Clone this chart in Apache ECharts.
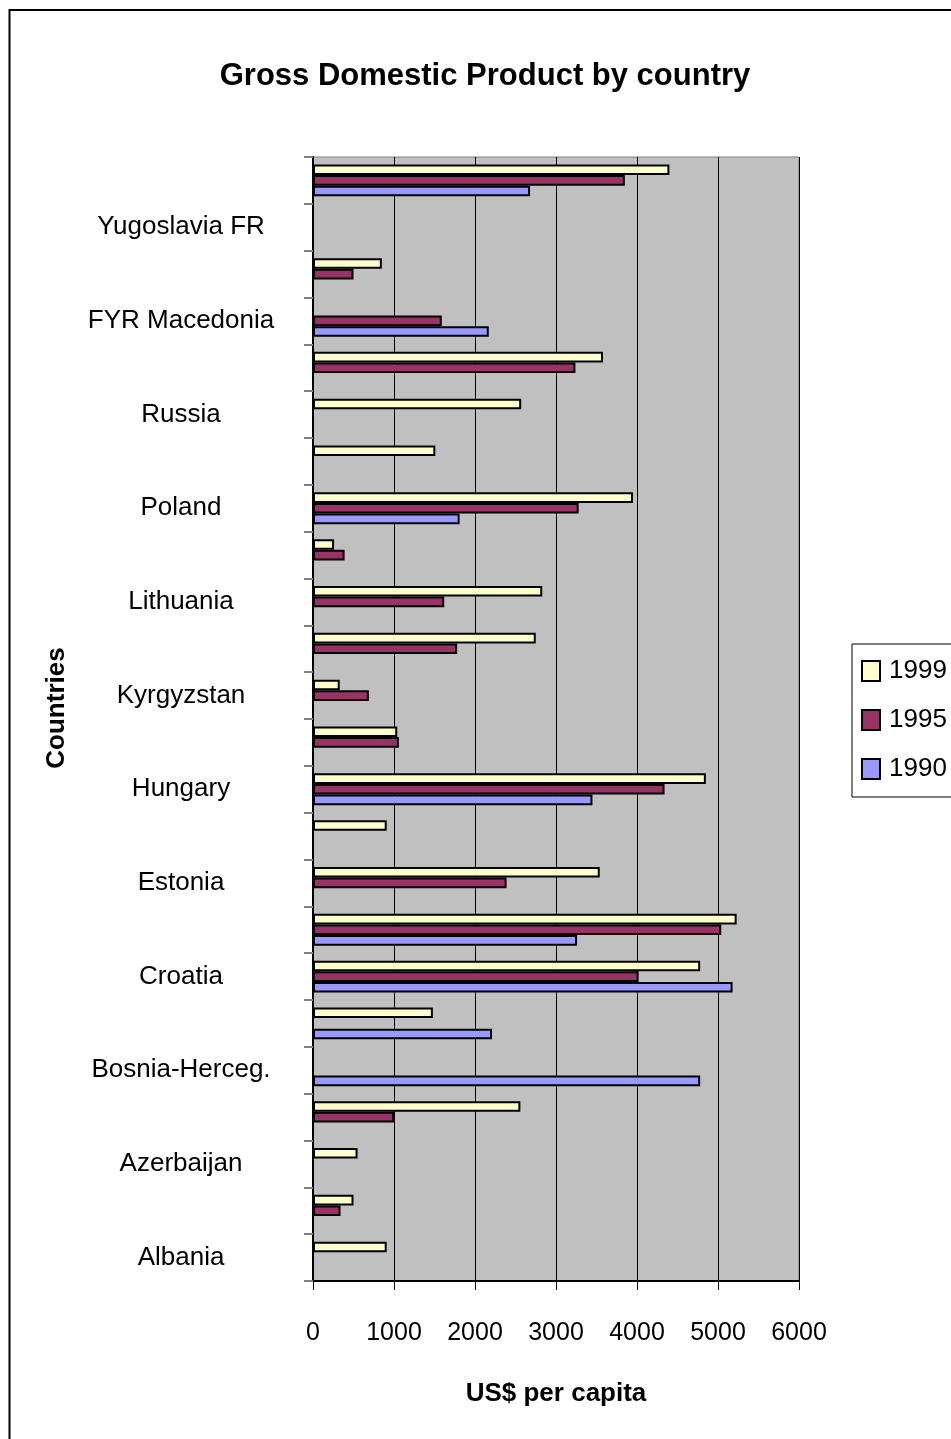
<!DOCTYPE html>
<html>
<head>
<meta charset="utf-8">
<script src="https://cdn.jsdelivr.net/npm/echarts@6/dist/echarts.min.js"></script>
<style>
html,body{margin:0;padding:0;background:#fff;}
#chart{width:951px;height:1439px;}
</style>
</head>
<body>
<div id="chart"></div>
<script>
// Categories (bottom to top); only every other label is shown, as in the reference
const countries = [
  'Albania','Armenia','Azerbaijan','Belarus','Bosnia-Herceg.','Bulgaria',
  'Croatia','Czech Rep.','Estonia','Georgia','Hungary','Kazakhstan',
  'Kyrgyzstan','Latvia','Lithuania','Moldova','Poland','Romania',
  'Russia','Slovakia','FYR Macedonia','Ukraine','Yugoslavia FR','Slovenia'
];
const gdp1999 = [910, 500, 550, 2560, null, 1480, 4780, 5230, 3540, 910, 4850, 1040,
                 330, 2750, 2830, 260, 3950, 1510, 2570, 3580, null, 850, null, 4400];
const gdp1995 = [null, 340, null, 1000, null, null, 4020, 5040, 2390, null, 4340, 1060,
                 690, 1780, 1620, 390, 3280, null, null, 3240, 1590, 500, null, 3850];
const gdp1990 = [null, null, null, null, 4780, 2210, 5180, 3260, null, null, 3450, null,
                 null, null, null, null, 1810, null, null, null, 2170, null, null, 2680];
const seriesNames = ['1999', '1995', '1990'];
const xMin = 0, xMax = 6000, xStep = 1000;

const FONT = "'Liberation Sans', Arial, Helvetica, sans-serif";

const chart = echarts.init(document.getElementById('chart'), null, {renderer: 'canvas'});
const option = {
  backgroundColor: '#ffffff',
  animation: false,
  title: {
    text: 'Gross Domestic Product by country',
    left: 480,
    textAlign: 'center',
    top: 56,
    textStyle: {fontFamily: FONT, fontSize: 31, fontWeight: 'bold', color: '#000'}
  },
  legend: {
    orient: 'vertical',
    left: 852,
    top: 644,
    padding: [14, 20, 15, 9],
    itemWidth: 18,
    itemHeight: 20,
    itemGap: 23,
    icon: 'rect',
    borderColor: '#000',
    borderWidth: 1,
    backgroundColor: '#fff',
    data: seriesNames,
    textStyle: {fontFamily: FONT, fontSize: 26, color: '#000', lineHeight: 26, padding: [0, 0, 0, 4]}
  },
  graphic: [{
    type: 'rect',
    z: -10,
    silent: true,
    shape: {x: 9.5, y: 10, width: 1000, height: 1500},
    style: {fill: 'none', stroke: '#000', lineWidth: 2}
  }],
  grid: {
    left: 313, right: 152, top: 157, bottom: 158,
    show: true,
    backgroundColor: '#c0c0c0',
    borderColor: '#808080',
    borderWidth: 1,
    containLabel: false,
    outerBoundsMode: 'none'
  },
  xAxis: {
    type: 'value',
    min: xMin, max: xMax, interval: xStep,
    name: 'US$ per capita',
    nameLocation: 'middle',
    nameGap: 100,
    nameMoveOverlap: false,
    nameTextStyle: {fontFamily: FONT, fontSize: 26, fontWeight: 'bold', color: '#000'},
    axisLine: {show: true, lineStyle: {color: '#000', width: 2}},
    axisTick: {show: true, length: 9, lineStyle: {color: '#000', width: 1}},
    axisLabel: {fontFamily: FONT, fontSize: 25, color: '#000', margin: 40,
                formatter: function (v) { return String(v); }},
    splitLine: {show: true, lineStyle: {color: '#000', width: 1}}
  },
  yAxis: {
    type: 'category',
    data: countries,
    name: 'Countries',
    nameLocation: 'middle',
    nameGap: 243,
    nameMoveOverlap: false,
    nameTextStyle: {fontFamily: FONT, fontSize: 26, fontWeight: 'bold', color: '#000', padding: [0, 0, 0, 22]},
    axisLine: {show: true, lineStyle: {color: '#000', width: 2}},
    axisTick: {show: true, interval: 0, length: 9, lineStyle: {color: '#808080', width: 2}},
    axisLabel: {interval: 1, fontFamily: FONT, fontSize: 26, color: '#000', margin: 132, align: 'center'},
    splitLine: {show: false}
  },
  series: [
    {name: '1999', type: 'bar', data: gdp1999, barGap: '0%', barCategoryGap: '32%',
     itemStyle: {color: '#ffffcc', borderColor: '#000', borderWidth: 2}},
    {name: '1995', type: 'bar', data: gdp1995, barGap: '0%', barCategoryGap: '32%',
     itemStyle: {color: '#993366', borderColor: '#000', borderWidth: 2}},
    {name: '1990', type: 'bar', data: gdp1990, barGap: '0%', barCategoryGap: '32%',
     itemStyle: {color: '#9999ff', borderColor: '#000', borderWidth: 2}}
  ]
};
chart.setOption(option);
</script>
</body>
</html>
